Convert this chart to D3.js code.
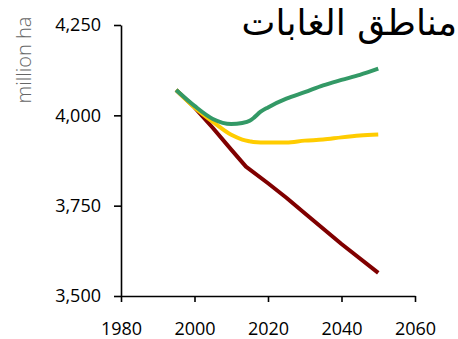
<!DOCTYPE html>
<html><head><meta charset="utf-8">
<script src="https://cdn.jsdelivr.net/npm/d3@7"></script>
<style>body{margin:0;background:#fff;}svg{display:block;}</style>
</head><body>
<svg id="c" width="458" height="339"></svg>
<script>
const redYears = [1995,2000,2005,2010,2014,2020,2025,2030,2040,2050];
const redValues = [4070,4022,3965,3905,3858,3812,3772,3729,3644,3564];
const years = [1995,2000,2005,2010,2013,2015,2016,2018,2020,2025,2030,2035,2040,2045,2050];
const yellowValues = [4070,4022,3982,3946,3933,3928,3926,3925,3925,3925,3930,3933,3939,3944,3947];
const greenValues  = [4070,4026,3990,3976,3979,3985,3992,4010,4022,4046,4064,4083,4098,4112,4129];
const xTicks = [1980,2000,2020,2040,2060];
const yTicks = [3500,3750,4000,4250];
const title = "مناطق الغابات";
const yLabel = "million ha";

const svg = d3.select("#c");
const x = d3.scaleLinear().domain([1980,2060]).range([121,415]);
const y = d3.scaleLinear().domain([3500,4250]).range([296,25]);
const font = "'Open Sans', sans-serif";

const xAxis = svg.append("g").attr("transform","translate(0,296)")
  .call(d3.axisBottom(x).tickValues(xTicks).tickFormat(d3.format("d")).tickSize(6).tickSizeOuter(0));
const yAxis = svg.append("g").attr("transform","translate(121,0)")
  .call(d3.axisLeft(y).tickValues(yTicks).tickFormat(d3.format(",")).tickSize(7).tickSizeOuter(0));
[xAxis,yAxis].forEach(a=>{
  a.selectAll("path,line").attr("stroke","#000").attr("stroke-width",1.6);
  a.selectAll("text").attr("font-family",font).attr("font-size",18).attr("fill","#000");
});
xAxis.selectAll("text").attr("y",30).attr("dy","0.5em");
yAxis.selectAll("text").attr("x",-20);

const lineRed = d3.line().x((d,i)=>x(redYears[i])).y(d=>y(d));
const line = d3.line().x((d,i)=>x(years[i])).y(d=>y(d)).curve(d3.curveMonotoneX);
svg.append("path").attr("d",lineRed(redValues)).attr("fill","none").attr("stroke","#800000")
  .attr("stroke-width",4).attr("stroke-linejoin","round");
[[yellowValues,"#ffcc00"],[greenValues,"#339966"]].forEach(([v,c])=>{
  svg.append("path").attr("d",line(v)).attr("fill","none").attr("stroke",c)
    .attr("stroke-width",4).attr("stroke-linejoin","round");
});

svg.append("text").attr("transform","translate(31,60) rotate(-90)")
  .attr("text-anchor","middle").attr("font-family",font).attr("font-size",20)
  .attr("font-weight",300).attr("fill","#666").text(yLabel);

svg.append("text").attr("x",457).attr("y",35).attr("text-anchor","end")
  .attr("font-family","'DejaVu Sans', sans-serif").attr("font-size",36)
  .attr("fill","#000").text(title);
</script>
</body></html>
